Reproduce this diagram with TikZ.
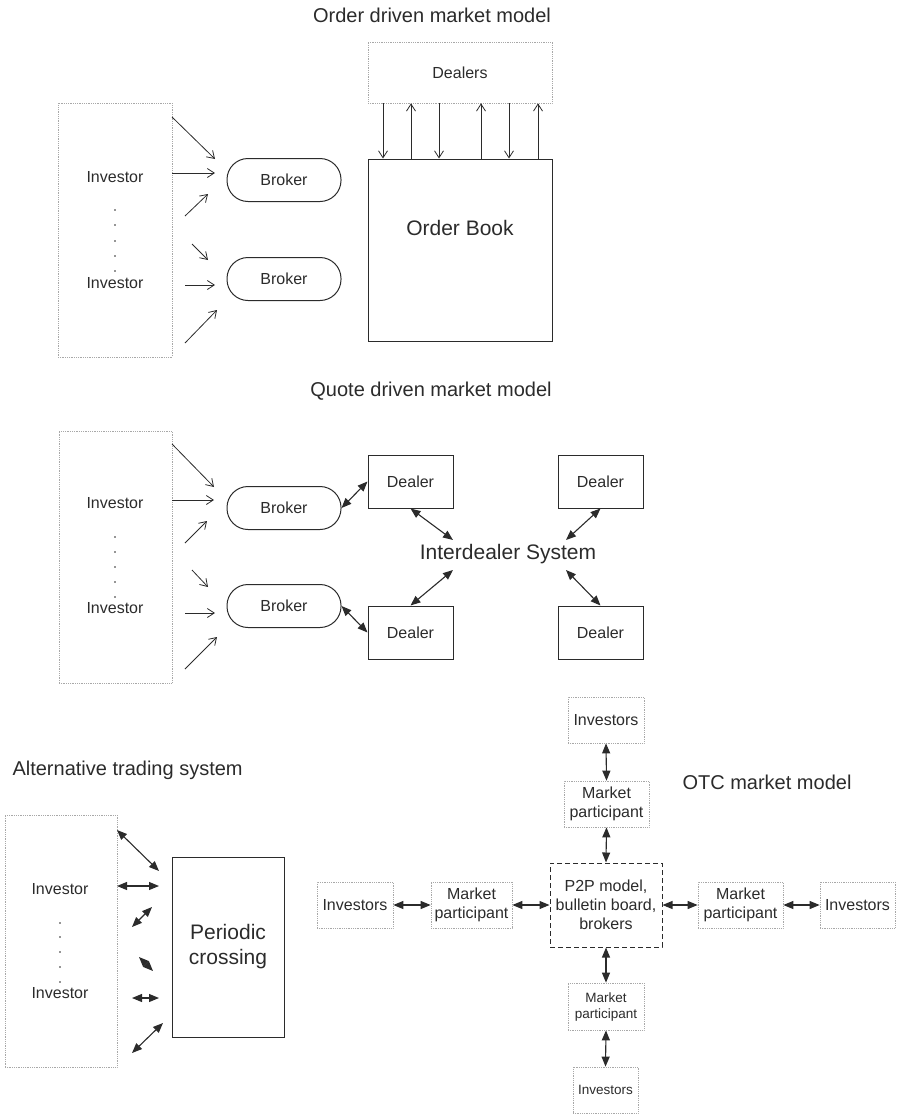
\documentclass[tikz,border=0pt]{standalone}
\usepackage{fontspec}
\setmainfont{Liberation Sans}
\usetikzlibrary{arrows.meta}
\definecolor{ink}{HTML}{2B2B2B}
\definecolor{dotgray}{HTML}{A8A8A8}
\newcommand\fsz[2]{\fontsize{#1}{#2}\selectfont}
\begin{document}
\begin{tikzpicture}[x=1pt,y=-1pt,
  every node/.style={text=ink, font=\fsz{16}{19}, align=center},
  title/.style={font=\fsz{20}{24}},
  big/.style={font=\fsz{21}{25}},
  small/.style={font=\fsz{13.5}{16}},
  group/.style={draw=dotgray, line width=0.7pt, dash pattern=on 0.6pt off 1.2pt, inner sep=0pt},
  solidbox/.style={draw=ink, line width=1pt, inner sep=0pt},
  pill/.style={solidbox, rounded corners=21pt, minimum width=114pt, minimum height=43pt},
  dealerbox/.style={solidbox, minimum width=85pt, minimum height=53pt},
  dashbox/.style={draw=ink, line width=1pt, dash pattern=on 5pt off 3pt, inner sep=0pt},
  oneway/.style={draw=ink, line width=0.8pt, -{Straight Barb[length=7pt,width=9pt]}},
  twoway/.style={draw=ink, line width=1.1pt, {Triangle[length=10pt,width=8pt]}-{Triangle[length=10pt,width=8pt]}}
]
\useasboundingbox (0,0) rectangle (897,1114);

% ---------- Order driven market model ----------
\node[title] (t1) at (432,15) {Order driven market model};
\node[group, minimum width=114pt, minimum height=254pt] (inv1) at (115,230) {};
\node (inv1a) at (115,177) {Investor};
\node (inv1b) at (115,283) {Investor};
\foreach \y in {210,225,241,256,271} \fill[ink] (115,\y) circle (0.9);
\node[pill] (br1) at (284,180) {Broker};
\node[pill] (br2) at (284,279) {Broker};
\node[solidbox, minimum width=184pt, minimum height=182pt] (book) at (460,250) {};
\node[big] (booktxt) at (460,228) {Order Book};
\node[group, minimum width=184pt, minimum height=61pt] (dealers) at (460,72.5) {Dealers};
\foreach \x in {383,439,509} {
  \coordinate (v\x) at (\x,0);
  \draw[oneway] (dealers.south -| v\x) -- (book.north -| v\x);
}
\foreach \x in {411,481,538} {
  \coordinate (v\x) at (\x,0);
  \draw[oneway] (book.north -| v\x) -- (dealers.south -| v\x);
}
\foreach \n/\a/\b/\c/\d in {1/172/117/215/159, 2/172/173/215/173, 3/185/216/208/194,
                            4/192/244/208/260, 5/185/285/215/285, 6/185/343/217/310} {
  \coordinate (fa\n) at (\a,\b);
  \coordinate (fb\n) at (\c,\d);
  \draw[oneway] (fa\n) -- (fb\n);
}

% ---------- Quote driven market model ----------
\node[title] (t2) at (431,391) {Quote driven market model};
\node[group, minimum width=113pt, minimum height=252pt] (inv2) at (115.5,557) {};
\node (inv2a) at (115,503) {Investor};
\node (inv2b) at (115,608) {Investor};
\foreach \y in {537,552,567,582,597} \fill[ink] (115,\y) circle (0.9);
\node[pill] (br3) at (284,508) {Broker};
\node[pill] (br4) at (284,606) {Broker};
\node[dealerbox] (dTL) at (410.5,481.5) {Dealer};
\node[dealerbox] (dTR) at (600.5,481.5) {Dealer};
\node[dealerbox] (dBL) at (410.5,632.5) {Dealer};
\node[dealerbox] (dBR) at (600.5,632.5) {Dealer};
\node[big] (ids) at (508,554) {Interdealer System};
\coordinate (idsNW) at (453,540);
\coordinate (idsNE) at (566,540);
\coordinate (idsSW) at (453,570);
\coordinate (idsSE) at (566,570);
\foreach \n/\a/\b/\c/\d in {1/172/444/214/487, 2/172/500/214/500, 3/185/543/207/521,
                            4/192/570/208/587, 5/185/613/215/613, 6/185/669/217/637} {
  \coordinate (ga\n) at (\a,\b);
  \coordinate (gb\n) at (\c,\d);
  \draw[oneway] (ga\n) -- (gb\n);
}
\draw[twoway] (br3.east) -- (dTL.west);
\draw[twoway] (br4.east) -- (dBL.west);
\draw[twoway] (dTL.south) -- (idsNW);
\draw[twoway] (dBL.north) -- (idsSW);
\draw[twoway] (dTR.south) -- (idsNE);
\draw[twoway] (dBR.north) -- (idsSE);

% ---------- Alternative trading system ----------
\node[title, anchor=west] (t3) at (9,770) {Alternative trading system};
\node[group, minimum width=112pt, minimum height=252pt] (inv3) at (61,941) {};
\node (inv3a) at (60,889) {Investor};
\node (inv3b) at (60,993) {Investor};
\foreach \y in {923,937,952,967,982} \fill[ink] (60,\y) circle (0.9);
\node[solidbox, big, minimum width=112pt, minimum height=180pt] (cross) at (228,947) {Periodic\\crossing};
\foreach \n/\a/\b/\c/\d in {1/117/830/159/871, 2/117/886/159/886, 3/132/927/152/907,
                            4/139/957/153/971, 5/132/998/159/998, 6/132/1053/163/1023} {
  \coordinate (ha\n) at (\a,\b);
  \coordinate (hb\n) at (\c,\d);
  \draw[twoway] (ha\n) -- (hb\n);
}

% ---------- OTC market model ----------
\node[title] (t4) at (767,782) {OTC market model};
\node[dashbox, minimum width=112pt, minimum height=84pt] (p2p) at (606,905) {P2P model,\\bulletin board,\\brokers};
\node[group, minimum width=76pt, minimum height=46pt] (invT) at (606,720) {Investors};
\node[group, minimum width=85pt, minimum height=46pt] (mpT) at (606.5,804) {Market\\participant};
\node[group, small, minimum width=76pt, minimum height=47pt] (mpB) at (606,1006.5) {Market\\participant};
\node[group, small, minimum width=65pt, minimum height=46pt] (invB) at (605.5,1090) {Investors};
\node[group, minimum width=76pt, minimum height=46pt] (invL) at (355,905) {Investors};
\node[group, minimum width=81pt, minimum height=46pt] (mpL) at (471.5,905) {Market\\participant};
\node[group, minimum width=85pt, minimum height=46pt] (mpR) at (740.5,905) {Market\\participant};
\node[group, minimum width=75pt, minimum height=46pt] (invR) at (857.5,905) {Investors};
\draw[twoway] (invT.south) -- (mpT.north);
\draw[twoway] (mpT.south) -- (p2p.north);
\draw[twoway] (p2p.south) -- (mpB.north);
\draw[twoway] (mpB.south) -- (invB.north);
\draw[twoway] (invL.east) -- (mpL.west);
\draw[twoway] (mpL.east) -- (p2p.west);
\draw[twoway] (p2p.east) -- (mpR.west);
\draw[twoway] (mpR.east) -- (invR.west);
\end{tikzpicture}
\end{document}
